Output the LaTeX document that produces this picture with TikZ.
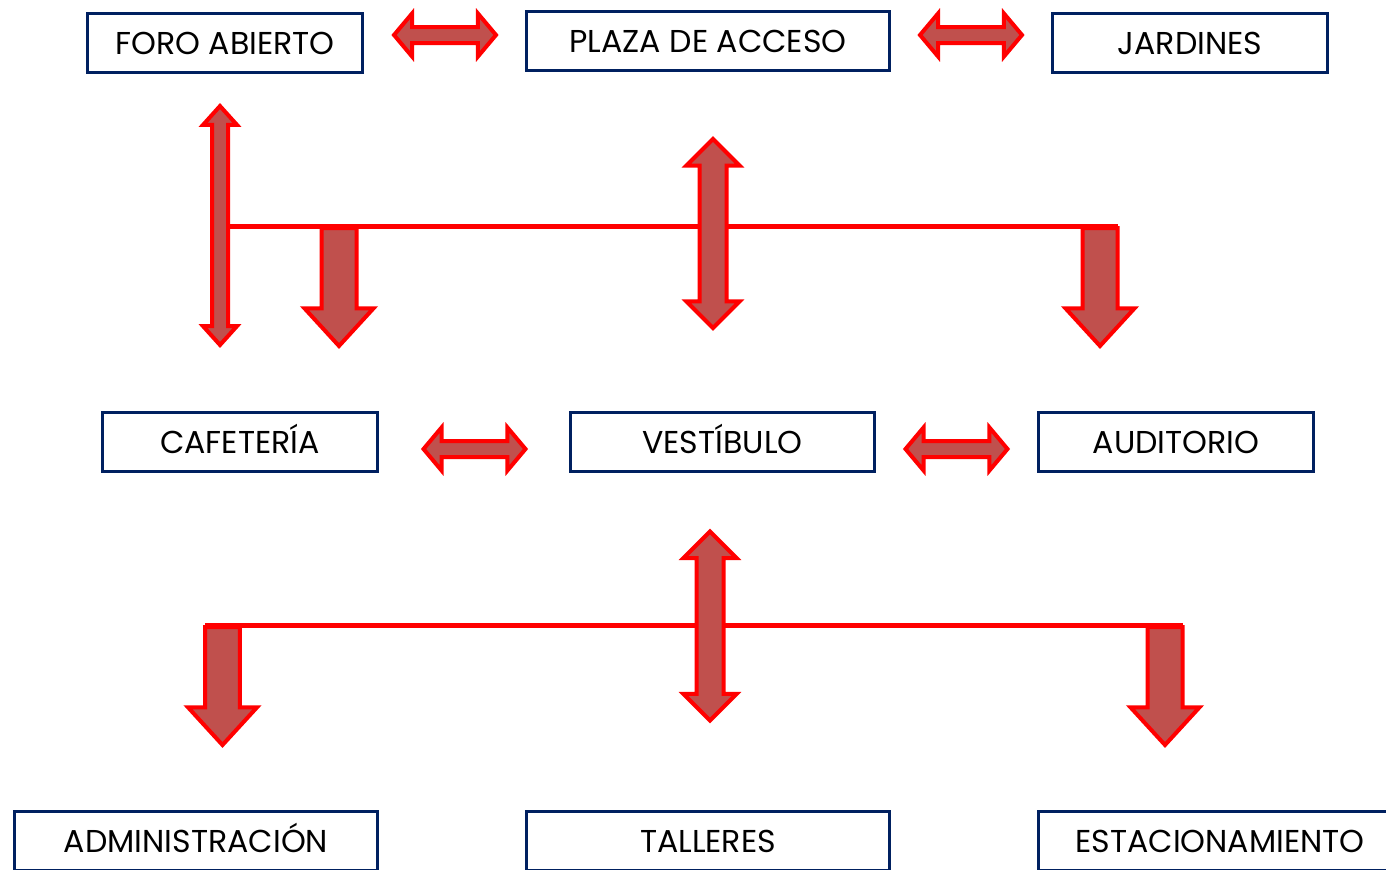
\documentclass[tikz,border=0pt]{standalone}
\usepackage{fontspec}
\setmainfont{Poppins}
\usetikzlibrary{shapes.arrows,backgrounds,calc}
\definecolor{boxblue}{RGB}{0,32,96}
\definecolor{arrowfill}{RGB}{192,80,77}
\tikzset{
  box/.style={draw=boxblue, line width=0.06cm, minimum height=1.18cm, inner sep=0pt,
    text height=0.45cm, text depth=0pt, font=\fontsize{18}{20}\selectfont},
  blockarrow/.style={fill=arrowfill, draw=red, line width=0.08cm, minimum width=0pt},
  harrow/.style={blockarrow, double arrow, minimum height=2.04cm, inner sep=0.12cm,
    double arrow head extend=0.27cm, double arrow tip angle=100},
  thinarrow/.style={blockarrow, double arrow, rotate=90, minimum height=4.78cm, inner sep=0.12cm,
    double arrow head extend=0.18cm, double arrow tip angle=84},
  varrow/.style={blockarrow, double arrow, rotate=90, minimum height=3.78cm, inner sep=0.23cm,
    double arrow head extend=0.26cm, double arrow tip angle=90},
  downarrow/.style={blockarrow, single arrow, rotate=-90, anchor=tail, minimum height=2.36cm,
    inner sep=0.31cm, single arrow head extend=0.34cm, single arrow tip angle=85},
  bar/.style={draw=red, line width=0.1cm}
}
\begin{document}
\begin{tikzpicture}[x=0.02cm, y=-0.02cm]
  \useasboundingbox (0,0) rectangle (1386,869);
  \clip (0,0) rectangle (1386,869);
  \foreach \name/\x/\y/\w/\txt in {foro/225/43/5.5/FORO ABIERTO, plaza/708/41/7.26/PLAZA DE ACCESO,
      jardines/1190/43/5.5/JARDINES, cafeteria/240/442/5.5/CAFETERÍA, vestibulo/722.5/442/6.08/VESTÍBULO,
      auditorio/1176/442/5.5/AUDITORIO, admin/196/841/7.26/ADMINISTRACIÓN, talleres/708/841/7.26/TALLERES,
      estac/1220/841/7.26/ESTACIONAMIENTO} {
    \node[box, minimum width=\w cm] (\name) at (\x,\y) {\txt};
  }
  \node[harrow] (hforo) at (445,35) {};
  \node[harrow] (hjard) at (971,35) {};
  \node[harrow] (hcaf) at (474.5,449) {};
  \node[harrow] (haud) at (956.5,449) {};
  \node[thinarrow] (vforo) at (220,225.5) {};
  \node[varrow] (vplaza) at (713,233.5) {};
  \node[varrow] (vtall) at (710,626) {};
  \node[downarrow] (dcaf) at (339,226) {};
  \node[downarrow] (daud) at (1100,226) {};
  \node[downarrow] (dadm) at (222.5,625) {};
  \node[downarrow] (dest) at (1165,625) {};
  \begin{scope}[on background layer]
    \draw[bar] (vforo.center |- daud.tail) -- ($(daud.tail)+(17.5,0)$);
    \draw[bar] ($(dadm.tail)+(-17.5,0)$) -- ($(dest.tail)+(17.5,0)$);
  \end{scope}
\end{tikzpicture}
\end{document}
